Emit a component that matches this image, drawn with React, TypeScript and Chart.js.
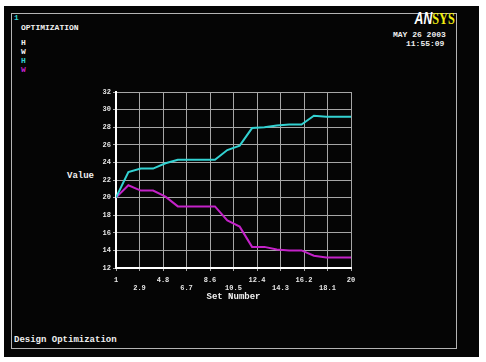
import React, { useEffect, useRef } from "react";
import { Chart, registerables } from "chart.js";

Chart.register(...registerables);

const setNumbers = [1, 2, 3, 4, 5, 6, 7, 8, 9, 10, 11, 12, 13, 14, 15, 16, 17, 18, 19, 20];
const seriesH = [20, 22.9, 23.3, 23.3, 23.9, 24.3, 24.3, 24.3, 24.3, 25.4, 25.9, 27.9, 28.0, 28.2, 28.3, 28.3, 29.3, 29.2, 29.2, 29.2];
const seriesW = [20, 21.4, 20.8, 20.8, 20.1, 19.0, 19.0, 19.0, 19.0, 17.4, 16.7, 14.4, 14.4, 14.1, 14.0, 14.0, 13.4, 13.2, 13.2, 13.2];
const xTickValues = [1, 2.9, 4.8, 6.7, 8.6, 10.5, 12.4, 14.3, 16.2, 18.1, 20];
const xTickLabels = ["1", "2.9", "4.8", "6.7", "8.6", "10.5", "12.4", "14.3", "16.2", "18.1", "20"];
const yTickValues = [12, 14, 16, 18, 20, 22, 24, 26, 28, 30, 32];

const CYAN = "#33d2d2";
const MAGENTA = "#c422c8";
const MONO = "'Liberation Mono', 'DejaVu Sans Mono', monospace";

function Txt(props: { x: number; y: number; color?: string; size?: number; children: React.ReactNode; right?: boolean }) {
  const { x, y, color = "#f0f0f0", size = 8, children, right } = props;
  const style: React.CSSProperties = {
    position: "absolute",
    top: y - size / 2,
    lineHeight: `${size}px`,
    fontSize: size,
    fontFamily: MONO,
    fontWeight: "bold",
    color,
    whiteSpace: "pre",
  };
  if (right) style.right = 486 - x;
  else style.left = x;
  return <div style={style}>{children}</div>;
}

export default function App() {
  const ref = useRef<HTMLCanvasElement | null>(null);

  useEffect(() => {
    if (!ref.current) return;
    const tickFont = { family: MONO, size: 7, weight: "bold" as const, lineHeight: 1.15 };
    const chart = new Chart(ref.current, {
      type: "line",
      data: {
        datasets: [
          {
            label: "H",
            data: setNumbers.map((x, i) => ({ x, y: seriesH[i] })),
            borderColor: CYAN,
            borderWidth: 2,
            pointRadius: 0,
            tension: 0,
          },
          {
            label: "W",
            data: setNumbers.map((x, i) => ({ x, y: seriesW[i] })),
            borderColor: MAGENTA,
            borderWidth: 2,
            pointRadius: 0,
            tension: 0,
          },
        ],
      },
      options: {
        animation: false,
        responsive: false,
        devicePixelRatio: 1,
        plugins: { legend: { display: false }, tooltip: { enabled: false } },
        layout: { padding: { left: 60, right: 135, top: 92, bottom: 61 } },
        scales: {
          x: {
            type: "linear",
            min: 1,
            max: 20,
            afterBuildTicks: (s: any) => {
              s.ticks = xTickValues.map((v) => ({ value: v }));
            },
            afterFit: (s: any) => {
              s.height = 33;
            },
            grid: { color: "#a6a6a6", lineWidth: 1, tickLength: 3, tickColor: "#a6a6a6" },
            border: { color: "#ffffff", width: 2 },
            ticks: {
              autoSkip: false,
              maxRotation: 0,
              minRotation: 0,
              padding: 5,
              color: "#e8e8e8",
              font: tickFont,
              callback: (_v: any, i: number) => (i % 2 === 0 ? [xTickLabels[i], ""] : ["", xTickLabels[i]]),
            },
            title: {
              display: true,
              text: "Set Number",
              color: "#f0f0f0",
              font: { family: MONO, size: 9, weight: "bold", lineHeight: 1 },
              padding: 0,
            },
          },
          y: {
            type: "linear",
            min: 12,
            max: 32,
            afterBuildTicks: (s: any) => {
              s.ticks = yTickValues.map((v) => ({ value: v }));
            },
            afterFit: (s: any) => {
              s.width = 56;
            },
            grid: { color: "#a6a6a6", lineWidth: 1, tickLength: 3, tickColor: "#a6a6a6" },
            border: { color: "#ffffff", width: 2 },
            ticks: {
              padding: 2,
              color: "#e8e8e8",
              font: tickFont,
              callback: (v: any) => String(v),
            },
          },
        },
      },
    } as any);
    return () => chart.destroy();
  }, []);

  return (
    <div style={{ position: "fixed", left: 0, top: 0, width: 486, height: 362, background: "#ffffff", overflow: "hidden" }}>
      <div style={{ position: "absolute", left: 4, top: 6, width: 475, height: 351, background: "#050505" }} />
      <div style={{ position: "absolute", left: 11, top: 13, width: 444, height: 334, border: "1px solid #b4b4b4" }} />
      <Txt x={14} y={18} color={CYAN} size={8}>1</Txt>
      <Txt x={21} y={28}>OPTIMIZATION</Txt>
      <Txt x={21} y={42.5}>H</Txt>
      <Txt x={21} y={51.5}>W</Txt>
      <Txt x={21} y={61} color={CYAN}>H</Txt>
      <Txt x={21} y={70} color={MAGENTA}>W</Txt>
      <div
        style={{
          position: "absolute",
          right: 486 - 455,
          top: 10,
          fontSize: 17,
          lineHeight: "17px",
          fontWeight: "bold",
          fontFamily: "'Liberation Serif', serif",
          transform: "scaleX(0.72)",
          transformOrigin: "right center",
          whiteSpace: "pre",
        }}
      >
        <span style={{ color: "#ffffff", fontFamily: "'Liberation Sans', sans-serif", fontStyle: "italic" }}>AN</span>
        <span style={{ color: "#f2ee10" }}>SYS</span>
      </div>
      <Txt x={393} y={35}>MAY 26 2003</Txt>
      <Txt x={406} y={44}>11:55:09</Txt>
      <Txt x={67} y={176} size={9}>Value</Txt>
      <Txt x={14} y={340} size={9}>Design Optimization</Txt>
      <canvas ref={ref} width={486} height={362} style={{ position: "absolute", left: 0, top: 0, width: 486, height: 362 }} />
    </div>
  );
}
